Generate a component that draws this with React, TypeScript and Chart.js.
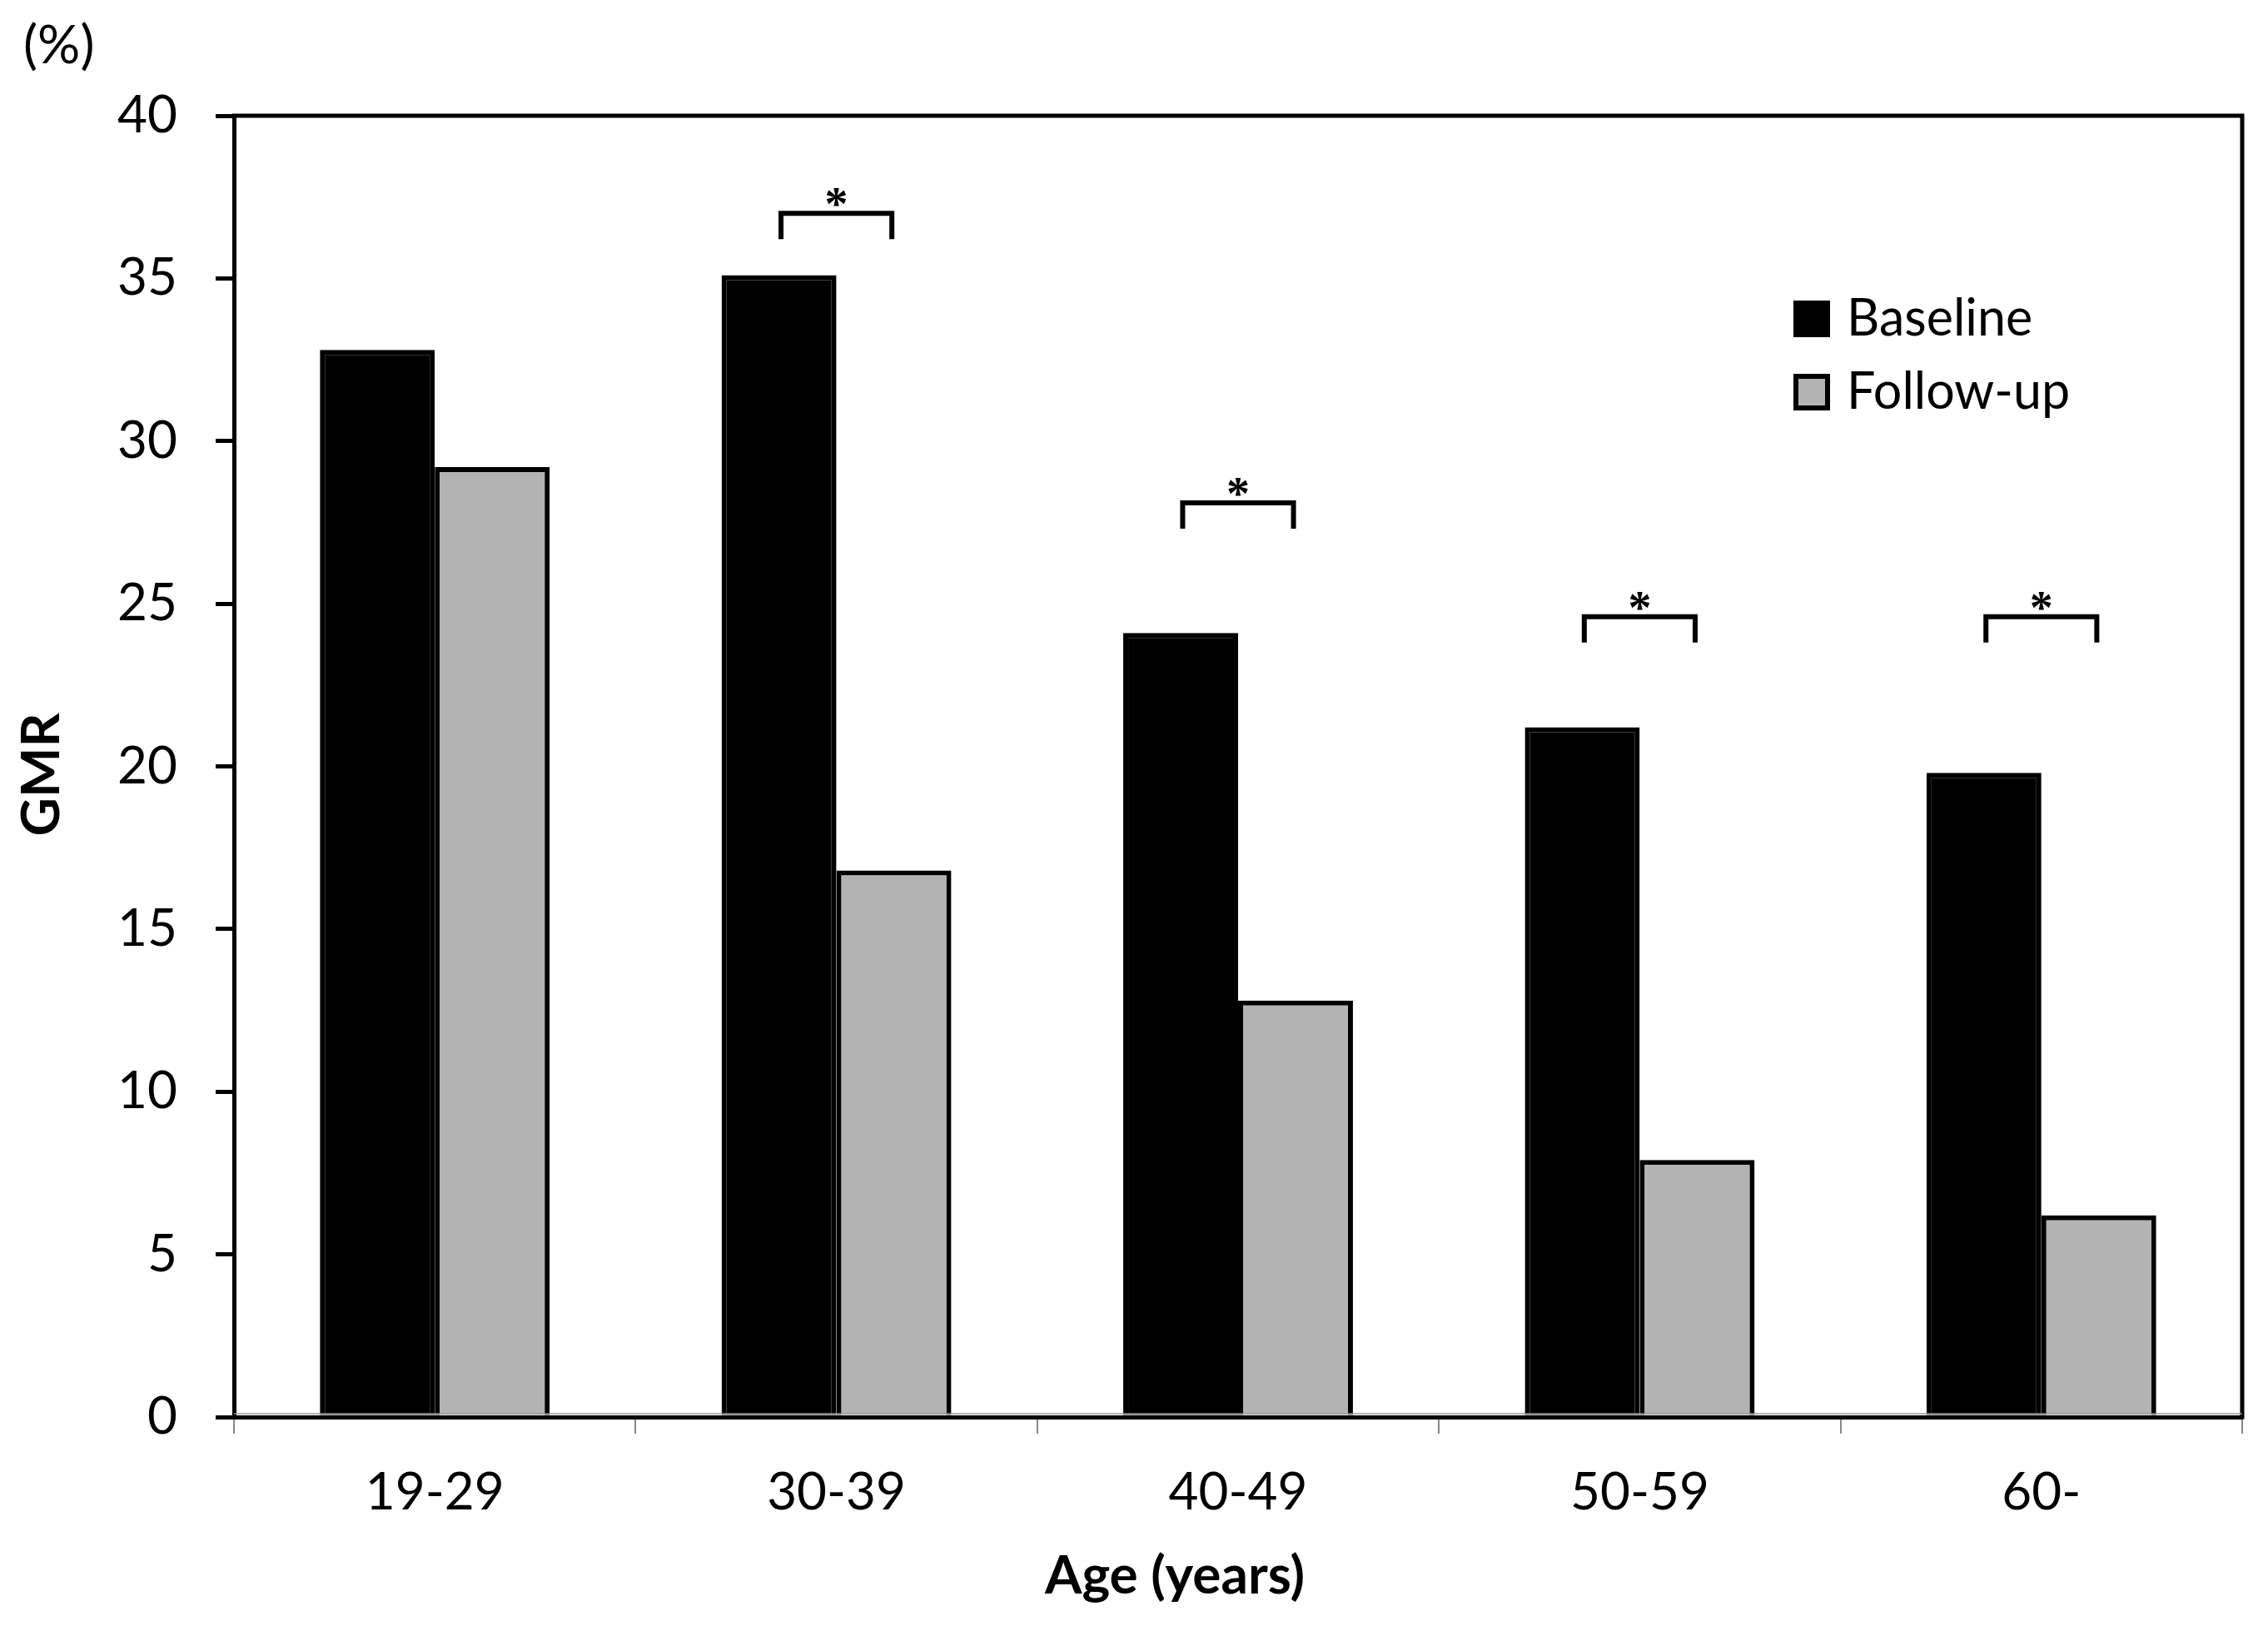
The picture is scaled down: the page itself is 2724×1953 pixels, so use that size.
import React, { useEffect, useRef } from "react";
import { Chart, registerables } from "chart.js";

Chart.register(...registerables);

const categories = ["19-29", "30-39", "40-49", "50-59", "60-"];
const baselineValues = [32.8, 35.1, 24.1, 21.2, 19.8];
const followUpValues = [29.2, 16.8, 12.8, 7.9, 6.2];
const significanceLevels: (number | null)[] = [null, 37.0, 28.1, 24.6, 24.6];
const seriesLabels = ["Baseline", "Follow-up"];
const yMin = 0;
const yMax = 40;
const yStep = 5;
const yTitle = "GMR";
const xTitle = "Age (years)";
const unitLabel = "(%)";

const FONT = 'Lato, "Noto Sans", sans-serif';
const W = 2724;
const H = 1953;

const annotationPlugin = {
  id: "annotations",
  afterDraw(chart: any) {
    const { ctx, chartArea: ca, scales } = chart;
    const x = scales.x;
    const y = scales.y;
    ctx.save();
    // frame top + right
    ctx.strokeStyle = "#000";
    ctx.lineWidth = 5;
    ctx.lineCap = "square";
    ctx.beginPath();
    ctx.moveTo(ca.left, ca.top);
    ctx.lineTo(ca.right, ca.top);
    ctx.lineTo(ca.right, ca.bottom);
    ctx.stroke();

    // thin grey line just above the x axis
    ctx.strokeStyle = "#999";
    ctx.lineWidth = 1.5;
    ctx.lineCap = "butt";
    ctx.beginPath();
    ctx.moveTo(ca.left, ca.bottom - 4);
    ctx.lineTo(ca.right, ca.bottom - 4);
    ctx.stroke();

    // significance brackets
    const catW = x.getPixelForValue(1) - x.getPixelForValue(0);
    ctx.strokeStyle = "#000";
    ctx.lineJoin = "miter";
    significanceLevels.forEach((lvl, i) => {
      if (lvl === null) return;
      const cx = x.getPixelForValue(i);
      const half = 0.138 * catW;
      const yy = y.getPixelForValue(lvl);
      ctx.lineWidth = 6;
      ctx.beginPath();
      ctx.moveTo(cx - half, yy + 31);
      ctx.lineTo(cx - half, yy);
      ctx.lineTo(cx + half, yy);
      ctx.lineTo(cx + half, yy + 31);
      ctx.stroke();
      ctx.fillStyle = "#000";
      ctx.font = 'bold 56px "Liberation Serif", serif';
      ctx.textAlign = "center";
      ctx.textBaseline = "alphabetic";
      ctx.fillText("*", cx, yy + 8);
    });

    // legend
    const lx = ca.right - 539;
    const rows = [
      { top: ca.top + 222, base: ca.top + 264, ds: chart.data.datasets[0] },
      { top: ca.top + 310, base: ca.top + 352, ds: chart.data.datasets[1] },
    ];
    rows.forEach((r) => {
      ctx.fillStyle = r.ds.backgroundColor;
      ctx.fillRect(lx, r.top, 44, 44);
      ctx.strokeStyle = "#000";
      ctx.lineWidth = 6;
      ctx.strokeRect(lx + 3, r.top + 3, 38, 38);
      ctx.fillStyle = "#000";
      ctx.font = `61px ${FONT}`;
      ctx.textAlign = "left";
      ctx.textBaseline = "alphabetic";
      ctx.fillText(r.ds.label, lx + 64, r.base);
    });

    // axis titles
    ctx.fillStyle = "#000";
    ctx.font = `bold 64px ${FONT}`;
    ctx.textAlign = "center";
    ctx.textBaseline = "middle";
    ctx.save();
    ctx.translate(50, (ca.top + ca.bottom) / 2 + 10);
    ctx.rotate(-Math.PI / 2);
    ctx.fillText(yTitle, 0, 0);
    ctx.restore();

    ctx.textBaseline = "alphabetic";
    ctx.fillText(xTitle, (ca.left + ca.right) / 2 - 76, ca.bottom + 212);

    ctx.font = `64px ${FONT}`;
    ctx.textAlign = "left";
    ctx.fillText(unitLabel, 28, 76);
    ctx.restore();
  },
};

export default function App() {
  const ref = useRef<HTMLCanvasElement | null>(null);
  useEffect(() => {
    document.body.style.margin = "0";
    const canvas = ref.current!;
    const chart = new Chart(canvas, {
      type: "bar",
      data: {
        labels: categories,
        datasets: [
          {
            label: seriesLabels[0],
            data: baselineValues,
            backgroundColor: "#000000",
            borderColor: "#000000",
            borderWidth: 6,
            barPercentage: 1,
            categoryPercentage: 0.572,
          },
          {
            label: seriesLabels[1],
            data: followUpValues,
            backgroundColor: "#b3b3b3",
            borderColor: "#000000",
            borderWidth: 6,
            barPercentage: 1,
            categoryPercentage: 0.572,
          },
        ],
      },
      options: {
        responsive: false,
        animation: false,
        devicePixelRatio: 1,
        layout: { padding: { left: 0, right: 31, top: 139, bottom: 0 } },
        plugins: {
          legend: { display: false },
          tooltip: { enabled: false },
          title: { display: false },
        },
        scales: {
          x: {
            grid: {
              display: true,
              drawOnChartArea: false,
              drawTicks: true,
              tickLength: 20,
              color: "#888888",
              lineWidth: 2,
            },
            border: { display: true, color: "#000", width: 5 },
            ticks: {
              color: "#000",
              font: { family: FONT, size: 62 },
              padding: 34,
              maxRotation: 0,
            },
            afterFit(scale: any) {
              scale.height = 251;
            },
          },
          y: {
            min: yMin,
            max: yMax,
            grid: {
              display: true,
              drawOnChartArea: false,
              drawTicks: true,
              tickLength: 22,
              color: "#000",
              lineWidth: 5,
            },
            border: { display: true, color: "#000", width: 5 },
            ticks: {
              stepSize: yStep,
              color: "#000",
              font: { family: FONT, size: 62 },
              padding: 46,
            },
            afterFit(scale: any) {
              scale.width = 281;
            },
          },
        },
      },
      plugins: [annotationPlugin],
    });
    return () => chart.destroy();
  }, []);
  return (
    <canvas
      ref={ref}
      width={W}
      height={H}
      style={{ display: "block", width: W, height: H, background: "#fff" }}
    />
  );
}
